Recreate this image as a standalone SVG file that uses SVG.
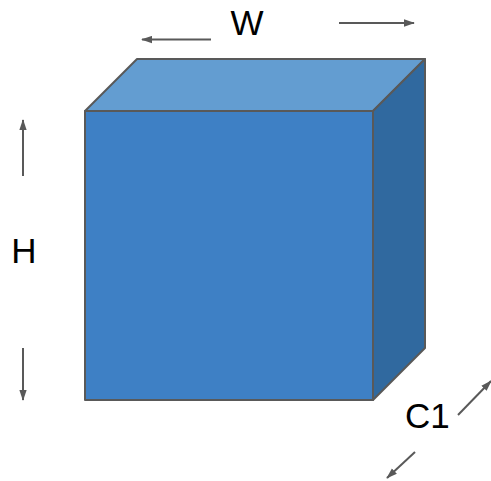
<svg xmlns="http://www.w3.org/2000/svg" width="491" height="481" viewBox="0 0 491 481">
<defs>
<style>
.face{stroke:#595959;stroke-width:2;stroke-linejoin:round}
.arr{stroke:#595959;stroke-width:2;fill:none;marker-end:url(#ah)}
.lbl{font-family:"Liberation Sans",Arial,sans-serif;font-size:35px;fill:#000}
</style>
<marker id="ah" viewBox="0 0 12 8" refX="11" refY="4" markerWidth="5.5" markerHeight="4" orient="auto" markerUnits="strokeWidth">
<path d="M0,0 L12,4 L0,8 z" fill="#595959"/>
</marker>
</defs>
<g id="cube">
<polygon id="top" class="face" points="85,111 137,59 425,59 373,111" fill="#639dd1"/>
<polygon id="side" class="face" points="373,111 425,59 425,348 373,400" fill="#30699f"/>
<rect id="front" class="face" x="85" y="111" width="288" height="289" fill="#3e80c5"/>
</g>
<g id="connectors">
<line class="arr" x1="211" y1="39.5" x2="142" y2="39.5"/>
<line class="arr" x1="339" y1="23" x2="414" y2="23"/>
<line class="arr" x1="23" y1="176" x2="23" y2="120"/>
<line class="arr" x1="23" y1="348" x2="23" y2="400"/>
<line class="arr" x1="458" y1="415" x2="491" y2="381"/>
<line class="arr" x1="415" y1="452" x2="387" y2="478"/>
</g>
<g id="labels">
<text class="lbl" x="247" y="35" text-anchor="middle">W</text>
<text class="lbl" x="24" y="263" text-anchor="middle">H</text>
<text class="lbl" x="405" y="428">C1</text>
</g>
</svg>
